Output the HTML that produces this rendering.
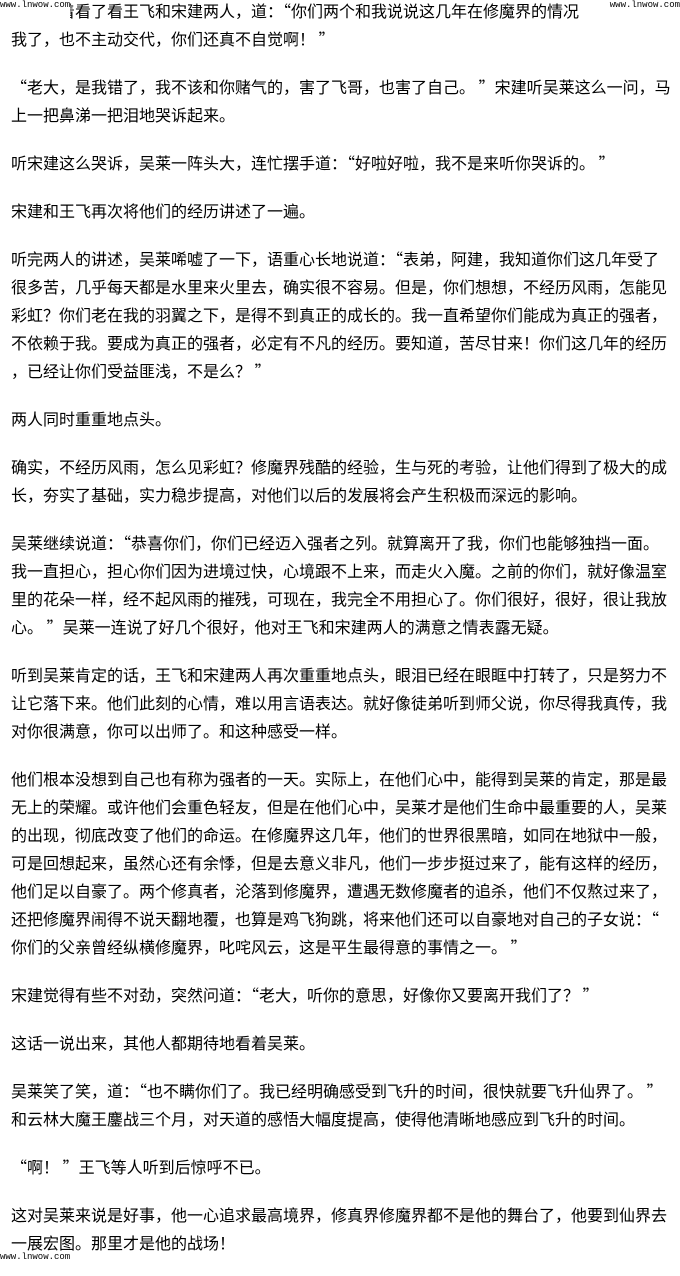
<!DOCTYPE html>
<html><head><meta charset="utf-8">
<style>
html,body{margin:0;padding:0;background:#fff;}
body{width:680px;height:1261px;overflow:hidden;position:relative;
font-family:"Noto Sans CJK SC","WenQuanYi Zen Hei",sans-serif;color:#000;}
#c{position:absolute;left:11px;top:-4px;font-size:16px;line-height:28px;letter-spacing:0;}
#c .p{margin:0 0 20px 0;}
#c .p div{white-space:nowrap;}
.wm{position:absolute;background:#fff;font-family:"Liberation Mono",monospace;font-size:9px;line-height:10px;color:#000;z-index:2;}
</style></head><body>
<div id="c">
<div class="p"><div>吴莱笑着看了看王飞和宋建两人，道：“你们两个和我说说这几年在修魔界的情况吧，见到</div><div>我了，也不主动交代，你们还真不自觉啊！ ”</div></div>
<div class="p"><div>“老大，是我错了，我不该和你赌气的，害了飞哥，也害了自己。 ”宋建听吴莱这么一问，马</div><div>上一把鼻涕一把泪地哭诉起来。</div></div>
<div class="p"><div>听宋建这么哭诉，吴莱一阵头大，连忙摆手道：“好啦好啦，我不是来听你哭诉的。 ”</div></div>
<div class="p"><div>宋建和王飞再次将他们的经历讲述了一遍。</div></div>
<div class="p"><div>听完两人的讲述，吴莱唏嘘了一下，语重心长地说道：“表弟，阿建，我知道你们这几年受了</div><div>很多苦，几乎每天都是水里来火里去，确实很不容易。但是，你们想想，不经历风雨，怎能见</div><div>彩虹？你们老在我的羽翼之下，是得不到真正的成长的。我一直希望你们能成为真正的强者，</div><div>不依赖于我。要成为真正的强者，必定有不凡的经历。要知道，苦尽甘来！你们这几年的经历</div><div>，已经让你们受益匪浅，不是么？ ”</div></div>
<div class="p"><div>两人同时重重地点头。</div></div>
<div class="p"><div>确实，不经历风雨，怎么见彩虹？修魔界残酷的经验，生与死的考验，让他们得到了极大的成</div><div>长，夯实了基础，实力稳步提高，对他们以后的发展将会产生积极而深远的影响。</div></div>
<div class="p"><div>吴莱继续说道：“恭喜你们，你们已经迈入强者之列。就算离开了我，你们也能够独挡一面。</div><div>我一直担心，担心你们因为进境过快，心境跟不上来，而走火入魔。之前的你们，就好像温室</div><div>里的花朵一样，经不起风雨的摧残，可现在，我完全不用担心了。你们很好，很好，很让我放</div><div>心。 ”吴莱一连说了好几个很好，他对王飞和宋建两人的满意之情表露无疑。</div></div>
<div class="p"><div>听到吴莱肯定的话，王飞和宋建两人再次重重地点头，眼泪已经在眼眶中打转了，只是努力不</div><div>让它落下来。他们此刻的心情，难以用言语表达。就好像徒弟听到师父说，你尽得我真传，我</div><div>对你很满意，你可以出师了。和这种感受一样。</div></div>
<div class="p"><div>他们根本没想到自己也有称为强者的一天。实际上，在他们心中，能得到吴莱的肯定，那是最</div><div>无上的荣耀。或许他们会重色轻友，但是在他们心中，吴莱才是他们生命中最重要的人，吴莱</div><div>的出现，彻底改变了他们的命运。在修魔界这几年，他们的世界很黑暗，如同在地狱中一般，</div><div>可是回想起来，虽然心还有余悸，但是去意义非凡，他们一步步挺过来了，能有这样的经历，</div><div>他们足以自豪了。两个修真者，沦落到修魔界，遭遇无数修魔者的追杀，他们不仅熬过来了，</div><div>还把修魔界闹得不说天翻地覆，也算是鸡飞狗跳，将来他们还可以自豪地对自己的子女说：“</div><div>你们的父亲曾经纵横修魔界，叱咤风云，这是平生最得意的事情之一。 ”</div></div>
<div class="p"><div>宋建觉得有些不对劲，突然问道：“老大，听你的意思，好像你又要离开我们了？ ”</div></div>
<div class="p"><div>这话一说出来，其他人都期待地看着吴莱。</div></div>
<div class="p"><div>吴莱笑了笑，道：“也不瞒你们了。我已经明确感受到飞升的时间，很快就要飞升仙界了。 ”</div><div>和云林大魔王鏖战三个月，对天道的感悟大幅度提高，使得他清晰地感应到飞升的时间。</div></div>
<div class="p"><div>“啊！ ”王飞等人听到后惊呼不已。</div></div>
<div class="p"><div>这对吴莱来说是好事，他一心追求最高境界，修真界修魔界都不是他的舞台了，他要到仙界去</div><div>一展宏图。那里才是他的战场！</div></div>
</div>
<div class="wm" style="left:0;top:0;width:70px;height:22px;">www.lnwow.com</div>
<div class="wm" style="left:580px;top:0;width:100px;height:22px;text-align:right;">www.lnwow.com</div>
<div class="wm" style="left:0;top:1253px;width:70px;height:8px;line-height:8px;background:transparent;">www.lnwow.com</div>
</body></html>
